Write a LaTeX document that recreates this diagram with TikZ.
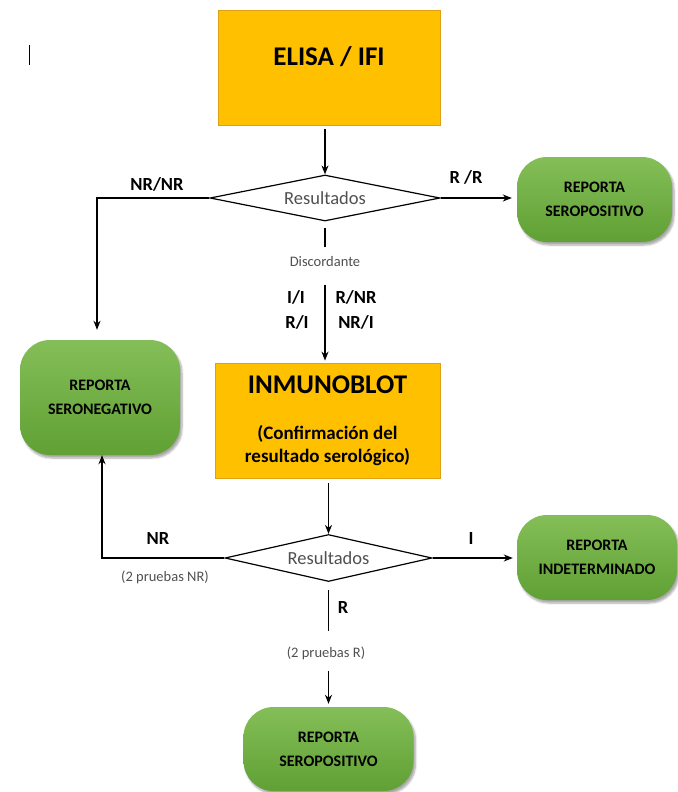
\documentclass[tikz,border=0pt]{standalone}
\usepackage{fontspec}
\setmainfont{Carlito}
\usetikzlibrary{shapes.geometric,arrows.meta,shadows.blur}
\definecolor{boxfill}{RGB}{255,192,0}
\definecolor{boxedge}{RGB}{222,160,20}
\definecolor{greentop}{RGB}{132,190,88}
\definecolor{greenbot}{RGB}{96,160,52}
\definecolor{graytext}{RGB}{80,80,80}
\tikzset{
  procbox/.style={draw=boxedge, line width=0.8pt, fill=boxfill, rectangle, inner sep=0pt},
  greenbox/.style={rectangle, rounded corners=30pt, top color=greentop, bottom color=greenbot,
    draw=none, align=center, font=\fontsize{16}{24}\selectfont\bfseries,
    blur shadow={shadow xshift=2pt, shadow yshift=-3pt, shadow blur steps=6, shadow opacity=35}},
  decision/.style={diamond, draw, line width=1.2pt, fill=white, inner sep=0pt, aspect=5,
    font=\fontsize{18.5}{20}\selectfont, text=graytext},
  conn/.style={line width=1.3pt},
  arr/.style={conn, -{Stealth[length=9pt,width=7pt]}},
  lab/.style={font=\fontsize{18.5}{20}\selectfont\bfseries},
  small/.style={font=\fontsize{14.5}{16}\selectfont, text=graytext}
}
\begin{document}
\begin{tikzpicture}[x=1pt,y=-1pt]
\useasboundingbox (0,0) rectangle (677,792);
% stray cursor mark
\draw[line width=0.8pt] (29,45) -- (29,65);

\node[procbox, minimum width=222pt, minimum height=115pt] (elisa) at (329,67.5) {};
\node[font=\fontsize{27}{29}\selectfont\bfseries] (elisatxt) at (329,57) {ELISA / IFI};

\node[decision, minimum width=230pt, minimum height=46pt] (d1) at (325,198) {Resultados};

\node[greenbox, minimum width=155pt, minimum height=85pt] (pos1) at (594.5,199.5) {REPORTA\\SEROPOSITIVO};
\node[greenbox, minimum width=160pt, minimum height=115pt] (neg) at (100,397.5) {REPORTA\\SERONEGATIVO};

\node[small] (disc) at (325,262) {Discordante};

\node[procbox, minimum width=225pt, minimum height=115pt] (blot) at (327.5,420.5) {};
\node[font=\fontsize{27}{29}\selectfont\bfseries] (blottxt) at (327.5,385) {INMUNOBLOT};
\node[font=\fontsize{19}{23}\selectfont\bfseries, align=center] (blotsub) at (327.5,446) {(Confirmación del\\resultado serológico)};

\node[decision, minimum width=207pt, minimum height=47pt] (d2) at (328.5,558) {Resultados};

\node[greenbox, minimum width=160pt, minimum height=85pt] (indet) at (597,557.5) {REPORTA\\INDETERMINADO};
\node[greenbox, minimum width=170pt, minimum height=84pt] (pos2) at (328.5,749) {REPORTA\\SEROPOSITIVO};

\node[small] (twor) at (326,653) {(2 pruebas R)};

% connectors
\draw[arr, shorten <=4pt] (d1.north |- elisa.south) -- (d1.north);
\draw[arr, shorten >=5pt] (d1.east) -- (d1.east -| pos1.west);
\draw[arr, shorten >=10pt] (d1.west) -| ([xshift=-3pt]neg.north);
\draw[conn, shorten <=6pt, shorten >=6pt] (d1.south) -- (d1.south |- disc.north);
\draw[arr, shorten <=14pt, shorten >=2pt] (d1.south |- disc.south) -- (d1.south |- blot.north);
\draw[arr, shorten <=5pt] (d2.north |- blot.south) -- (d2.north);
\draw[arr] (d2.west) -| ([xshift=2pt]neg.south);
\draw[arr, shorten >=4pt] (d2.east) -- (d2.east -| indet.west);
\draw[conn, shorten <=8pt, shorten >=12pt] (d2.south) -- (d2.south |- twor.north);
\draw[arr, shorten <=8pt, shorten >=3pt] (d2.south |- twor.south) -- (pos2.north);

% labels
\node[lab] (lrr) at (466,177) {R /R};
\node[lab] (lnrnr) at (157,184) {NR/NR};
\node[lab] (lii) at (296,297) {I/I};
\node[lab] (lri) at (297,322) {R/I};
\node[lab] (lrnr) at (356,297) {R/NR};
\node[lab] (lnri) at (356,322) {NR/I};
\node[lab] (lnr) at (158,538) {NR};
\node[small] (l2nr) at (165,577) {(2 pruebas NR)};
\node[lab] (li) at (471,538) {I};
\node[lab] (lr) at (343,607) {R};
\end{tikzpicture}
\end{document}
